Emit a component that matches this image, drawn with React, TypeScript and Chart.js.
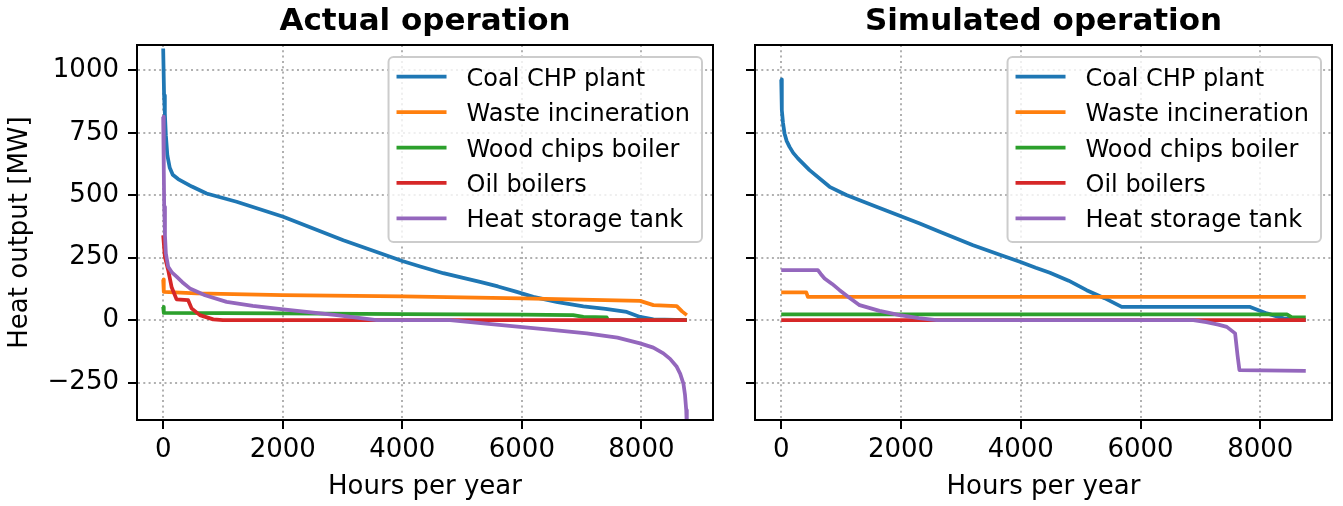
import React, { useEffect, useRef } from 'react';
import { Chart, registerables } from 'chart.js';

Chart.register(...registerables);

const FONT = '"DejaVu Sans", "Liberation Sans", sans-serif';

const seriesNames = ['Coal CHP plant', 'Waste incineration', 'Wood chips boiler', 'Oil boilers', 'Heat storage tank'];
const seriesColors = ['#1f77b4', '#ff7f0e', '#2ca02c', '#d62728', '#9467bd'];

const xTickValues = [0, 2000, 4000, 6000, 8000];
const yTickValues = [-250, 0, 250, 500, 750, 1000];
const X_MIN = -438;
const X_MAX = 9198;
const Y_MIN = -400;
const Y_MAX = 1102;

// ---- Actual operation ----
const actualCoalHours = [0, 15, 28, 45, 70, 110, 160, 250, 480, 726, 1228, 2008, 3013, 4000, 4300, 4686, 5000, 5300, 5600, 5915, 6192, 6600, 7029, 7400, 7755, 7978, 8201, 8760];
const actualCoalMW = [1088, 900, 828, 740, 660, 610, 582, 565, 535, 507, 474, 414, 320, 237, 215, 188, 170, 153, 135, 113, 93, 72, 55, 45, 33, 13, 3, 0];

const actualWasteHours = [0, 10, 560, 2000, 4000, 6000, 7978, 8201, 8592, 8680, 8760];
const actualWasteMW = [163, 113, 107, 100, 95, 87, 77, 60, 56, 35, 20];

const actualWoodHours = [0, 10, 2000, 4000, 6000, 6860, 7030, 7420, 7440, 8760];
const actualWoodMW = [53, 29, 27, 24, 22, 20, 13, 11, 0, 0];

const actualOilHours = [0, 28, 84, 140, 224, 418, 475, 614, 837, 1000, 8760];
const actualOilMW = [340, 254, 200, 133, 83, 80, 47, 20, 3, 0, 0];

const actualStorageHours = [0, 10, 17, 30, 45, 84, 150, 224, 320, 447, 700, 1061, 1500, 2008, 2902, 3571, 4800, 5400, 5970, 6500, 7086, 7600, 7978, 8200, 8368, 8480, 8592, 8650, 8703, 8730, 8750, 8760];
const actualStorageMW = [815, 600, 454, 340, 267, 214, 190, 174, 152, 127, 100, 73, 57, 43, 20, 0, 0, -14, -27, -39, -53, -70, -93, -110, -133, -155, -187, -215, -254, -300, -360, -430];

// ---- Simulated operation ----
const simCoalHours = [0, 10, 30, 55, 90, 139, 200, 278, 473, 808, 1087, 1589, 2313, 2647, 3204, 3650, 3985, 4250, 4487, 4800, 5100, 5400, 5686, 7831, 8110, 8388, 8760];
const simCoalMW = [964, 841, 790, 748, 718, 694, 670, 648, 601, 534, 501, 454, 387, 354, 300, 262, 234, 210, 190, 158, 120, 88, 53, 53, 27, 7, 0];

const simWasteHours = [0, 418, 445, 8760];
const simWasteMW = [111, 111, 93, 93];

const simWoodHours = [0, 8445, 8528, 8760];
const simWoodMW = [23, 23, 11, 11];

const simOilHours = [0, 8760];
const simOilMW = [0, 0];

const simStorageHours = [0, 612, 660, 724, 850, 975, 1150, 1309, 1642, 1978, 2300, 2592, 6883, 7100, 7300, 7441, 7580, 7620, 7652, 8760];
const simStorageMW = [200, 200, 185, 167, 145, 120, 88, 60, 37, 20, 8, 0, 0, -8, -18, -27, -53, -140, -200, -203];

const actualHours = [actualCoalHours, actualWasteHours, actualWoodHours, actualOilHours, actualStorageHours];
const actualValues = [actualCoalMW, actualWasteMW, actualWoodMW, actualOilMW, actualStorageMW];
const simHours = [simCoalHours, simWasteHours, simWoodHours, simOilHours, simStorageHours];
const simValues = [simCoalMW, simWasteMW, simWoodMW, simOilMW, simStorageMW];

function fmtY(v: number): string {
  return v < 0 ? '\u2212' + Math.abs(v) : String(v);
}

const decorPlugin = {
  id: 'decor',
  afterDraw(chart: any, _args: any, opts: any) {
    const { ctx, chartArea: a } = chart;
    ctx.save();
    // frame (all four spines)
    ctx.strokeStyle = '#000';
    ctx.lineWidth = 2;
    ctx.setLineDash([]);
    ctx.strokeRect(a.left, a.top, a.right - a.left, a.bottom - a.top);

    // title
    ctx.fillStyle = '#000';
    ctx.font = `bold 31px ${FONT}`;
    ctx.textAlign = 'center';
    ctx.textBaseline = 'alphabetic';
    ctx.fillText(opts.title, (a.left + a.right) / 2, 30);

    // legend
    ctx.font = `24px ${FONT}`;
    const widths = seriesNames.map((n) => ctx.measureText(n).width);
    const maxW = Math.max(...widths);
    const boxW = 78 + maxW + 12;
    const boxRight = a.right - 11;
    const boxLeft = boxRight - boxW;
    const boxTop = a.top + 12;
    const boxH = 185;
    ctx.beginPath();
    (ctx as any).roundRect(boxLeft, boxTop, boxW, boxH, 5);
    ctx.fillStyle = 'rgba(255,255,255,0.8)';
    ctx.fill();
    ctx.strokeStyle = '#cccccc';
    ctx.lineWidth = 2;
    ctx.stroke();
    ctx.textAlign = 'left';
    seriesNames.forEach((name, i) => {
      const y = boxTop + 19.7 + i * 35.4;
      ctx.beginPath();
      ctx.moveTo(boxLeft + 8, y);
      ctx.lineTo(boxLeft + 58, y);
      ctx.strokeStyle = seriesColors[i];
      ctx.lineWidth = 3.75;
      ctx.stroke();
      ctx.fillStyle = '#000';
      ctx.fillText(name, boxLeft + 78, y + 9);
    });
    ctx.restore();
  },
};

type PanelProps = {
  title: string;
  hours: number[][];
  values: number[][];
  showYLabels: boolean;
  left: number;
  width: number;
  yAxisWidth: number;
  padRight: number;
};

function Panel({ title, hours, values, showYLabels, left, width, yAxisWidth, padRight }: PanelProps) {
  const ref = useRef<HTMLCanvasElement | null>(null);
  useEffect(() => {
    if (!ref.current) return;
    const gridCommon = {
      color: '#b0b0b0',
      lineWidth: 2,
      tickLength: 9,
      tickColor: '#000',
      tickWidth: 2,
      tickBorderDash: [],
    };
    const borderCommon = { display: true, color: '#000', width: 2, dash: [2, 3.3] };
    const chart = new Chart(ref.current, {
      type: 'line',
      data: {
        datasets: seriesNames.map((name, i) => ({
          label: name,
          data: hours[i].map((h, j) => ({ x: h, y: values[i][j] })),
          borderColor: seriesColors[i],
          backgroundColor: seriesColors[i],
          borderWidth: 3.75,
          borderJoinStyle: 'round' as const,
          pointRadius: 0,
          pointHoverRadius: 0,
          tension: 0,
          fill: false,
          order: 5 - i,
        })),
      },
      options: {
        animation: false,
        responsive: false,
        maintainAspectRatio: false,
        devicePixelRatio: 1,
        events: [],
        layout: { padding: { top: 45, right: padRight, left: 0, bottom: 0 } },
        plugins: {
          legend: { display: false },
          tooltip: { enabled: false },
          title: { display: false },
          decor: { title },
        } as any,
        scales: {
          x: {
            type: 'linear',
            min: X_MIN,
            max: X_MAX,
            afterBuildTicks: (s: any) => {
              s.ticks = xTickValues.map((v) => ({ value: v }));
            },
            afterFit: (s: any) => {
              s.height = 86;
            },
            ticks: {
              font: { family: FONT, size: 26 },
              color: '#000',
              padding: 6,
              maxRotation: 0,
              autoSkip: false,
              callback: (v: any) => String(v),
            },
            grid: gridCommon,
            border: borderCommon,
            title: {
              display: true,
              text: 'Hours per year',
              font: { family: FONT, size: 26 },
              color: '#000',
              padding: { top: 0, bottom: 3 },
            },
          },
          y: {
            type: 'linear',
            min: Y_MIN,
            max: Y_MAX,
            afterBuildTicks: (s: any) => {
              s.ticks = yTickValues.map((v) => ({ value: v }));
            },
            afterFit: (s: any) => {
              s.width = yAxisWidth;
            },
            ticks: {
              font: { family: FONT, size: 26 },
              color: '#000',
              padding: 9,
              autoSkip: false,
              callback: (v: any) => (showYLabels ? fmtY(Number(v)) : ''),
            },
            grid: gridCommon,
            border: borderCommon,
            title: {
              display: showYLabels,
              text: 'Heat output [MW]',
              font: { family: FONT, size: 26 },
              color: '#000',
              padding: { top: 5, bottom: 0 },
            },
          },
        },
      } as any,
      plugins: [decorPlugin],
    });
    return () => chart.destroy();
  }, []);
  return (
    <canvas
      ref={ref}
      width={width}
      height={506}
      style={{ position: 'absolute', left, top: 0, width, height: 506 }}
    />
  );
}

export default function App() {
  return (
    <div style={{ position: 'absolute', left: 0, top: 0, width: 1343, height: 506, background: '#fff', overflow: 'hidden' }}>
      <Panel
        title="Actual operation"
        hours={actualHours}
        values={actualValues}
        showYLabels={true}
        left={0}
        width={730}
        yAxisWidth={137}
        padRight={17}
      />
      <Panel
        title="Simulated operation"
        hours={simHours}
        values={simValues}
        showYLabels={false}
        left={730}
        width={613}
        yAxisWidth={25}
        padRight={11}
      />
    </div>
  );
}
